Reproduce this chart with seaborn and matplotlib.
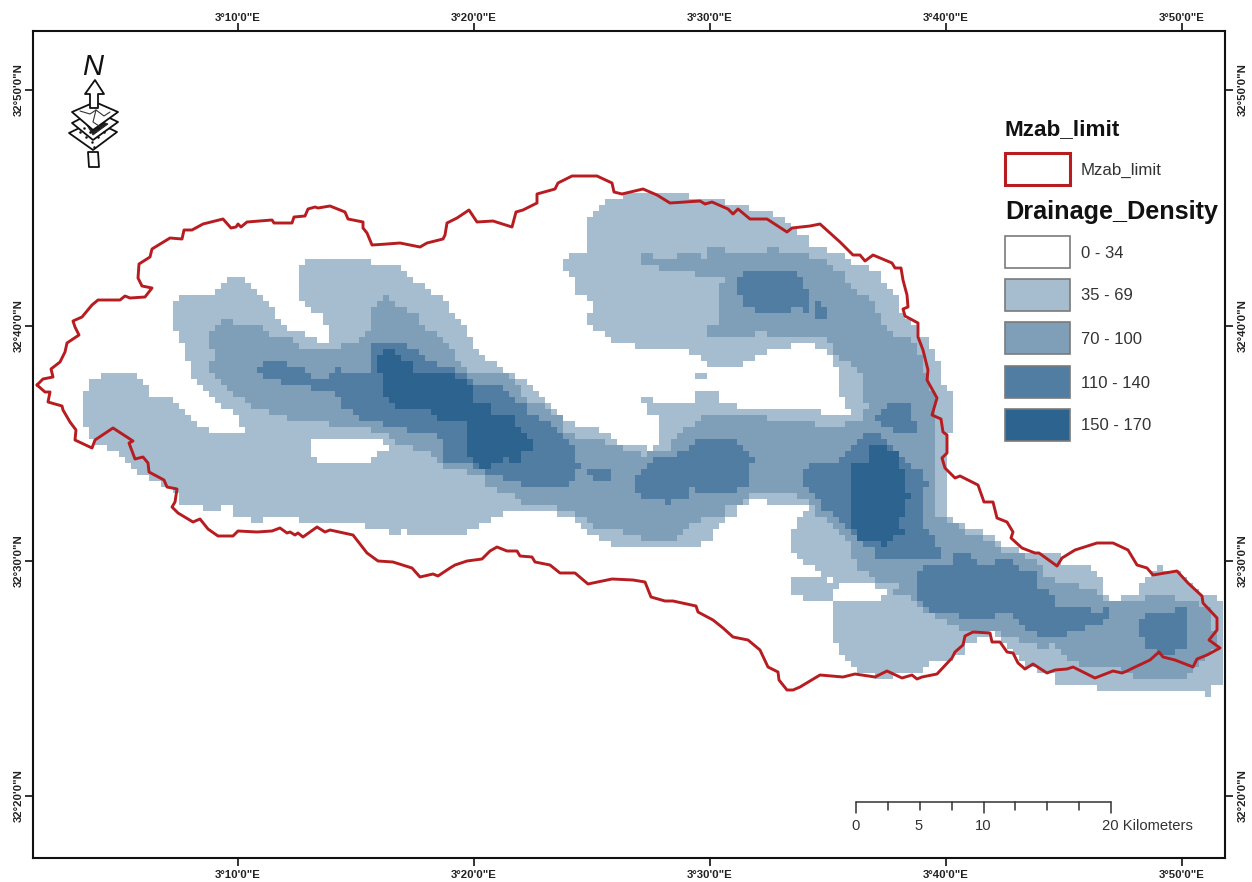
import numpy as np
import matplotlib
matplotlib.use("Agg")
import matplotlib.pyplot as plt
from matplotlib.colors import ListedColormap
from matplotlib.path import Path
from matplotlib.patches import Polygon, Rectangle
from matplotlib.transforms import ScaledTranslation
import seaborn as sns

# ---- Map geometry, in sheet units ------------------------------------------
limit_outline = [(37,385),(43,379),(53,377),(51,369),(60,362),(65,352),(67,343),(79,335),(75,327),(73,321),(82,317),(92,305),(98,300),(120,300),(125,296),(130,298),(145,297),(152,288),(142,286),(138,278),(139,264),(150,257),(152,249),(170,238),(182,239),(184,230),(192,230),(203,224),(223,219),(231,228),(236,227),(238,224),(241,227),(247,222),(272,220),(274,223),(292,223),(294,217),(305,216),(308,209),(315,207),(318,208),(330,206),(345,212),(348,219),(363,222),(363,228),(367,233),(372,245),(387,244),(400,243),(420,247),(427,243),(443,239),(445,235),(447,223),(457,218),(469,210),(477,222),(493,221),(512,227),(516,212),(523,210),(537,203),(537,194),(555,189),(558,183),(572,176),(597,176),(612,183),(614,192),(622,194),(643,189),(657,195),(670,203),(700,201),(705,204),(712,202),(728,209),(733,214),(738,209),(750,219),(767,219),(787,232),(792,228),(810,226),(820,224),(830,233),(840,242),(853,255),(860,255),(865,261),(873,255),(892,263),(895,268),(901,268),(903,280),(907,295),(908,307),(903,309),(905,316),(918,323),(918,337),(923,350),(928,370),(927,380),(937,398),(932,415),(941,419),(943,432),(947,435),(947,453),(942,458),(945,468),(955,478),(960,476),(978,485),(984,502),(993,502),(997,518),(1007,522),(1013,532),(1011,538),(1022,548),(1035,553),(1039,553),(1057,566),(1062,558),(1075,550),(1097,543),(1113,543),(1128,550),(1137,565),(1147,568),(1153,575),(1177,571),(1188,583),(1202,596),(1203,603),(1217,618),(1217,630),(1209,640),(1220,648),(1207,655),(1197,659),(1193,667),(1175,660),(1163,657),(1159,652),(1150,660),(1133,668),(1127,671),(1122,673),(1113,671),(1095,678),(1073,667),(1067,669),(1055,670),(1047,673),(1033,664),(1025,669),(1018,663),(1013,653),(1007,652),(1000,642),(992,642),(990,633),(973,632),(965,636),(963,645),(955,652),(952,658),(937,674),(922,677),(917,679),(912,675),(902,678),(887,671),(875,677),(855,674),(843,677),(820,675),(800,687),(793,690),(787,690),(779,680),(778,672),(768,667),(760,650),(748,640),(733,637),(723,628),(713,620),(698,612),(696,606),(673,601),(665,601),(651,597),(645,582),(633,580),(612,579),(588,584),(575,573),(560,573),(550,565),(535,562),(532,557),(520,556),(517,551),(507,551),(497,547),(490,551),(482,559),(467,561),(455,565),(450,568),(438,576),(433,574),(420,577),(412,568),(393,562),(378,561),(367,553),(353,535),(330,530),(325,532),(317,527),(303,537),(298,533),(295,535),(290,532),(287,533),(280,528),(272,531),(257,532),(238,531),(233,536),(218,536),(208,529),(200,519),(193,522),(178,513),(172,507),(175,502),(177,489),(167,487),(164,480),(149,472),(148,463),(143,457),(135,459),(129,443),(133,441),(113,428),(95,440),(92,448),(75,440),(76,430),(70,422),(63,410),(62,406),(48,402),(50,392),(45,392),(37,385)]

density_35_69 = [(82,400),(93,380),(107,373),(130,373),(142,380),(153,398),(173,398),(185,410),(190,422),(215,433),(245,433),(238,417),(215,400),(203,387),(190,373),(185,350),(178,335),(173,320),(173,307),(185,295),(215,295),(227,277),(238,277),(257,288),(275,313),(287,330),(305,333),(318,343),(330,342),(323,313),(312,312),(300,300),(300,272),(306,258),(372,258),(373,264),(395,264),(408,277),(432,290),(432,295),(440,295),(457,317),(468,333),(480,357),(503,368),(517,378),(535,387),(558,413),(565,422),(595,427),(613,437),(625,446),(643,447),(648,452),(662,445),(662,417),(650,415),(650,405),(692,403),(693,392),(715,392),(723,403),(747,409),(818,411),(820,416),(855,415),(837,392),(837,367),(825,348),(803,343),(777,350),(758,355),(757,360),(733,367),(710,367),(707,360),(692,355),(692,350),(650,348),(613,342),(602,333),(590,323),(590,313),(595,307),(588,295),(577,295),(572,277),(559,267),(572,253),(589,252),(589,217),(607,198),(643,193),(658,193),(687,193),(687,198),(727,198),(728,203),(747,204),(747,210),(770,211),(788,222),(788,227),(807,235),(807,247),(825,247),(825,253),(843,255),(855,263),(867,263),(867,270),(879,272),(879,283),(892,288),(897,300),(903,315),(915,327),(920,337),(927,337),(927,348),(933,348),(933,362),(939,362),(939,385),(952,392),(952,433),(946,433),(946,470),(945,513),(952,518),(963,525),(963,530),(982,532),(993,537),(1007,548),(1060,556),(1060,562),(1078,562),(1090,567),(1097,573),(1103,585),(1108,602),(1122,597),(1140,597),(1140,585),(1153,573),(1157,567),(1163,567),(1163,572),(1177,572),(1202,597),(1218,597),(1223,603),(1223,687),(1212,688),(1212,698),(1205,698),(1205,688),(1145,693),(1145,688),(1139,688),(1139,693),(1097,693),(1097,687),(1060,687),(1055,680),(1053,674),(1045,673),(1027,667),(1020,658),(1013,652),(1002,640),(993,633),(968,645),(963,652),(957,657),(947,663),(933,663),(922,670),(922,675),(892,675),(892,681),(873,681),(873,674),(860,672),(843,658),(837,645),(832,645),(832,627),(826,627),(826,622),(832,622),(832,603),(807,602),(789,590),(789,580),(820,578),(818,573),(807,563),(795,553),(789,540),(789,532),(807,512),(807,506),(765,506),(765,500),(753,500),(740,507),(733,517),(717,523),(715,537),(698,547),(613,548),(613,543),(603,542),(590,533),(577,525),(570,517),(553,512),(505,512),(493,518),(480,525),(468,530),(468,536),(408,537),(408,530),(402,530),(402,537),(390,537),(390,530),(365,530),(365,524),(298,524),(298,518),(262,518),(262,524),(251,524),(251,518),(238,518),(233,512),(232,506),(220,507),(220,512),(203,512),(203,507),(185,505),(178,500),(175,490),(154,480),(137,475),(130,465),(118,452),(100,443),(93,442),(88,433),(82,422)]
density_35_69_specks = [[(698,373),(704,373),(704,379),(698,379)],[(644,398),(650,398),(650,404),(644,404)]]
density_gaps = [[(307,440),(383,440),(390,448),(377,453),(365,463),(323,463),(312,457),(312,447)],
                [(838,602),(880,602),(885,592),(873,586),(843,585),(832,592)],
                [(825,579),(831,579),(831,585),(825,585)]]

density_70_100 = [(209,332),(221,325),(221,320),(233,320),(233,325),(263,325),(270,337),(282,337),(298,343),(300,350),(342,348),(342,343),(360,342),(372,330),(372,308),(383,295),(390,295),(397,307),(420,313),(420,325),(432,330),(438,338),(450,343),(457,362),(468,373),(503,373),(517,380),(523,397),(547,408),(565,420),(565,433),(583,440),(607,442),(625,450),(650,457),(650,452),(667,453),(673,443),(680,432),(703,417),(765,417),(765,422),(813,422),(813,428),(837,428),(843,428),(843,423),(863,422),(867,407),(862,387),(860,373),(848,360),(832,357),(830,343),(823,338),(770,338),(770,332),(752,332),(752,336),(710,336),(705,327),(717,324),(717,302),(723,277),(698,276),(693,270),(687,265),(687,270),(657,270),(657,263),(643,263),(643,253),(650,253),(650,258),(680,258),(680,253),(698,253),(698,258),(710,258),(710,247),(723,247),(723,253),(770,253),(770,247),(777,247),(777,253),(807,253),(807,258),(825,258),(825,265),(842,270),(842,277),(848,282),(848,287),(862,295),(873,300),(873,307),(880,318),(892,337),(909,337),(922,360),(927,373),(934,397),(936,430),(937,460),(938,470),(933,512),(947,518),(963,532),(982,538),(993,543),(1007,552),(1033,557),(1043,570),(1048,578),(1078,585),(1097,592),(1108,603),(1145,603),(1145,597),(1175,597),(1175,603),(1200,603),(1213,610),(1215,647),(1200,660),(1188,675),(1188,681),(1133,681),(1133,675),(1122,670),(1103,668),(1093,668),(1083,665),(1067,660),(1060,650),(1055,645),(1048,645),(1048,650),(1037,650),(1037,645),(1025,645),(1013,638),(1000,633),(963,633),(952,623),(933,615),(922,608),(910,598),(892,597),(897,585),(885,585),(867,573),(855,565),(848,543),(837,533),(825,520),(815,513),(807,497),(793,495),(753,495),(740,505),(723,507),(722,515),(703,518),(687,525),(680,535),(667,542),(643,543),(643,537),(625,536),(625,530),(595,531),(593,525),(583,518),(573,512),(558,512),(558,506),(523,502),(512,495),(487,487),(487,480),(463,470),(450,468),(438,463),(427,453),(397,443),(383,433),(360,428),(323,423),(280,417),(257,408),(240,398),(222,380),(209,372),(209,362),(215,355),(209,345)]

density_110_140 = [
 [(251,375),(263,362),(287,362),(287,367),(299,367),(312,378),(330,378),(330,372),(336,367),(342,367),(342,372),(372,372),(372,360),(366,360),(372,355),(372,343),(408,343),(408,349),(420,349),(420,355),(432,360),(445,367),(457,367),(457,373),(468,373),(475,387),(503,387),(512,398),(523,403),(528,413),(547,422),(558,433),(577,452),(578,463),(583,467),(577,472),(570,482),(565,487),(523,487),(517,480),(487,475),(480,470),(468,463),(445,463),(445,447),(433,433),(385,428),(383,420),(365,420),(342,405),(335,393),(305,387),(275,380),(251,373)],
 [(637,475),(653,462),(653,458),(692,452),(692,445),(698,440),(735,440),(747,453),(753,460),(747,467),(746,488),(735,488),(735,494),(698,494),(698,488),(692,488),(687,500),(673,500),(673,505),(668,505),(668,500),(650,500),(637,493)],
 [(590,470),(613,470),(613,482),(597,482),(590,475)],
 [(740,277),(746,271),(788,271),(800,277),(807,290),(807,313),(800,307),(788,307),(788,313),(758,313),(747,307),(740,295)],
 [(813,301),(820,301),(825,308),(825,319),(813,319)],
 [(873,417),(887,404),(909,404),(915,410),(909,417),(915,422),(915,433),(892,433),(892,427),(880,423)],
 [(802,472),(807,465),(837,463),(843,453),(867,433),(880,433),(898,452),(913,467),(922,470),(922,482),(928,482),(928,487),(922,487),(922,512),(927,530),(940,548),(945,553),(938,560),(877,561),(872,548),(862,543),(850,533),(843,523),(825,510),(820,502),(805,488)],
 [(915,573),(922,567),(952,567),(952,555),(970,555),(982,567),(993,567),(993,561),(1012,561),(1023,573),(1037,573),(1037,585),(1048,592),(1060,608),(1090,608),(1090,615),(1108,608),(1108,620),(1097,627),(1085,627),(1078,633),(1067,633),(1067,638),(1037,638),(1037,633),(1025,627),(1012,615),(993,615),(993,621),(957,621),(957,615),(933,615),(922,603),(915,592)],
 [(1139,622),(1145,615),(1175,615),(1175,608),(1187,608),(1187,643),(1182,650),(1163,655),(1152,650),(1145,643),(1145,638),(1139,638)],
]
density_150_170 = [
 [(378,355),(383,349),(395,349),(402,361),(413,361),(413,372),(457,373),(457,378),(468,378),(475,403),(492,403),(492,415),(517,417),(517,427),(528,433),(535,447),(523,453),(523,463),(512,463),(512,458),(505,458),(505,463),(493,463),(493,468),(482,468),(475,460),(463,453),(468,433),(468,420),(442,422),(428,410),(397,408),(383,397),(383,373),(378,372)],
 [(849,467),(867,460),(867,446),(886,446),(897,452),(903,470),(903,493),(910,495),(910,500),(903,500),(903,518),(898,523),(903,527),(903,535),(897,537),(890,543),(885,548),(880,548),(880,543),(862,543),(855,532),(850,525)],
]

class_labels = ["0 - 34", "35 - 69", "70 - 100", "110 - 140", "150 - 170"]
class_colors = ["#FFFFFF", "#A5BDCE", "#7F9FB9", "#527DA2", "#2D638F"]
lon_ticks = [238, 474, 710, 946, 1182]
lon_labels = ["3°10'0\"E", "3°20'0\"E", "3°30'0\"E", "3°40'0\"E", "3°50'0\"E"]
lat_ticks = [90, 326, 561, 796]
lat_labels = ["32°50'0\"N", "32°40'0\"N", "32°30'0\"N", "32°20'0\"N"]
scale_km = [0, 2.5, 5, 7.5, 10, 12.5, 15, 17.5, 20]
scale_km_labels = ["0", "5", "10", "20 Kilometers"]

# ---- Raster of density classes --------------------------------------------
CELL, X0, Y0, NCOLS, NROWS = 6, 35, 31, 198, 138
cx, cy = np.meshgrid(X0 + CELL * (np.arange(NCOLS) + .5), Y0 + CELL * (np.arange(NROWS) + .5))
centres = np.column_stack([cx.ravel(), cy.ravel()])


def inside(poly):
    return Path(poly).contains_points(centres).reshape(cx.shape)


grid = np.zeros(cx.shape, dtype=int)
grid[inside(density_35_69)] = 1
for p in density_35_69_specks:
    grid[inside(p)] = 1
for p in density_gaps:
    grid[inside(p)] = 0
grid[inside(density_70_100)] = 2
for p in density_110_140:
    grid[inside(p)] = 3
for p in density_150_170:
    grid[inside(p)] = 4

# ---- Figure ----------------------------------------------------------------
sns.set_theme(style="white")
plt.rcParams["font.family"] = ["Liberation Sans", "DejaVu Sans"]
W, H = 1252, 882
L, R, T, B = 33, 1225, 31, 858
fig = plt.figure(figsize=(W / 100, H / 100), dpi=100, facecolor="white")
ax = fig.add_axes([L / W, 1 - B / H, (R - L) / W, (B - T) / H])

sns.heatmap(grid, ax=ax, cmap=ListedColormap(class_colors), vmin=-.5, vmax=4.5,
            cbar=False, xticklabels=False, yticklabels=False,
            linewidths=0, antialiased=False)

to_x = lambda v: (np.asarray(v, float) - X0) / CELL
to_y = lambda v: (np.asarray(v, float) - Y0) / CELL

outline = np.array(limit_outline, float)
sns.lineplot(x=to_x(outline[:, 0]), y=to_y(outline[:, 1]), sort=False, estimator=None,
             color="#B71C20", linewidth=2.1, ax=ax, legend=False, solid_joinstyle="round")

ax.set_xlim(to_x(L), to_x(R))
ax.set_ylim(to_y(B), to_y(T))
ax.set_xlabel("")
ax.set_ylabel("")
ax.set_xticks(to_x(lon_ticks), lon_labels)
ax.set_yticks(to_y(lat_ticks), lat_labels)
for s in ax.spines.values():
    s.set_visible(True)
    s.set_color("#111111")
    s.set_linewidth(1.5)
ax.tick_params(axis="both", which="major", direction="out", length=5.5, width=1.2, color="#111111",
               labelsize=8.2, labelcolor="#222222", pad=2.5,
               bottom=True, top=True, left=True, right=True,
               labelbottom=True, labeltop=True, labelleft=True, labelright=True)


def nudge(label, dx_px, dy_px):
    label.set_transform(label.get_transform() + ScaledTranslation(dx_px / 100, dy_px / 100, fig.dpi_scale_trans))


for tick in ax.xaxis.get_major_ticks():
    tick.label1.set_fontweight("bold")
    tick.label2.set_fontweight("bold")
    nudge(tick.label1, 0, -1)
    nudge(tick.label2, 0, -3)
for tick in ax.yaxis.get_major_ticks():
    for lab in (tick.label1, tick.label2):
        lab.set_fontweight("bold")
        lab.set_rotation(90)
        lab.set_verticalalignment("center")
        nudge(lab, 2, 0)

# ---- Sheet overlay: legend, scale bar, north arrow -------------------------
ov = fig.add_axes([0, 0, 1, 1], facecolor="none")
ov.set_xlim(0, W)
ov.set_ylim(H, 0)
ov.axis("off")

ov.text(1005, 130, "Mzab_limit", fontsize=16.2, fontweight="bold", color="#111111", va="center")
ov.add_patch(Rectangle((1005, 153), 65, 32, fc="white", ec="#B71C20", lw=2.2))
ov.text(1081, 170, "Mzab_limit", fontsize=12.2, color="#333333", va="center")
ov.text(1005, 212, "Drainage_Density", fontsize=18.2, fontweight="bold", color="#111111", va="center")
for top, col, lab in zip([236, 279, 322, 366, 409], class_colors, class_labels):
    ov.add_patch(Rectangle((1005, top), 65, 32, fc=col, ec="#7A7A7A", lw=1.2))
    ov.text(1081, top + 17, lab, fontsize=12, color="#333333", va="center")

bar_x = 856 + np.array(scale_km) * 12.75
ov.plot([bar_x[0], bar_x[-1]], [802, 802], color="#333333", lw=1.1)
for km, x in zip(scale_km, bar_x):
    ov.plot([x, x], [802, 813 if km in (0, 10, 20) else 810], color="#333333", lw=1.1)
for x, lab in zip([856, 919, 983], scale_km_labels[:3]):
    ov.text(x, 826, lab, fontsize=10.6, color="#333333", ha="center", va="center")
ov.text(1102, 826, scale_km_labels[3], fontsize=10.6, color="#333333", ha="left", va="center")

ov.text(93, 67, "N", fontsize=21, color="#111111", ha="center", va="center", style="italic")
ink = dict(fc="white", ec="#111111", lw=1.3, joinstyle="round")
ov.add_patch(Polygon([(88, 152), (89, 167), (99, 167), (98, 152)], **ink))
ov.add_patch(Polygon([(69, 133), (94, 121), (117, 132), (93, 150)], **ink))
for dx, dy in [(80, 132), (86, 137), (92, 142), (98, 137), (104, 132), (90, 132), (84, 128), (98, 128), (94, 147)]:
    ov.plot(dx, dy, ".", color="#111111", ms=1.6)
ov.add_patch(Polygon([(72, 123), (95, 111), (118, 122), (93, 140)], **ink))
ov.add_patch(Polygon([(85, 122), (95, 119), (108, 124), (93, 135)], fc="#222222", ec="#222222", lw=.6))
ov.add_patch(Polygon([(72, 112), (95, 102), (118, 112), (93, 130)], **ink))
ov.plot([80, 90, 96, 104, 110], [111, 114, 110, 116, 112], color="#333333", lw=.8)
ov.plot([96, 93, 99], [110, 122, 126], color="#333333", lw=.8)
ov.add_patch(Polygon([(95, 80), (104, 94), (98, 94), (98, 108), (90, 108), (90, 94), (85, 94)], **ink))

fig.savefig("out.png", dpi=100, facecolor="white")
